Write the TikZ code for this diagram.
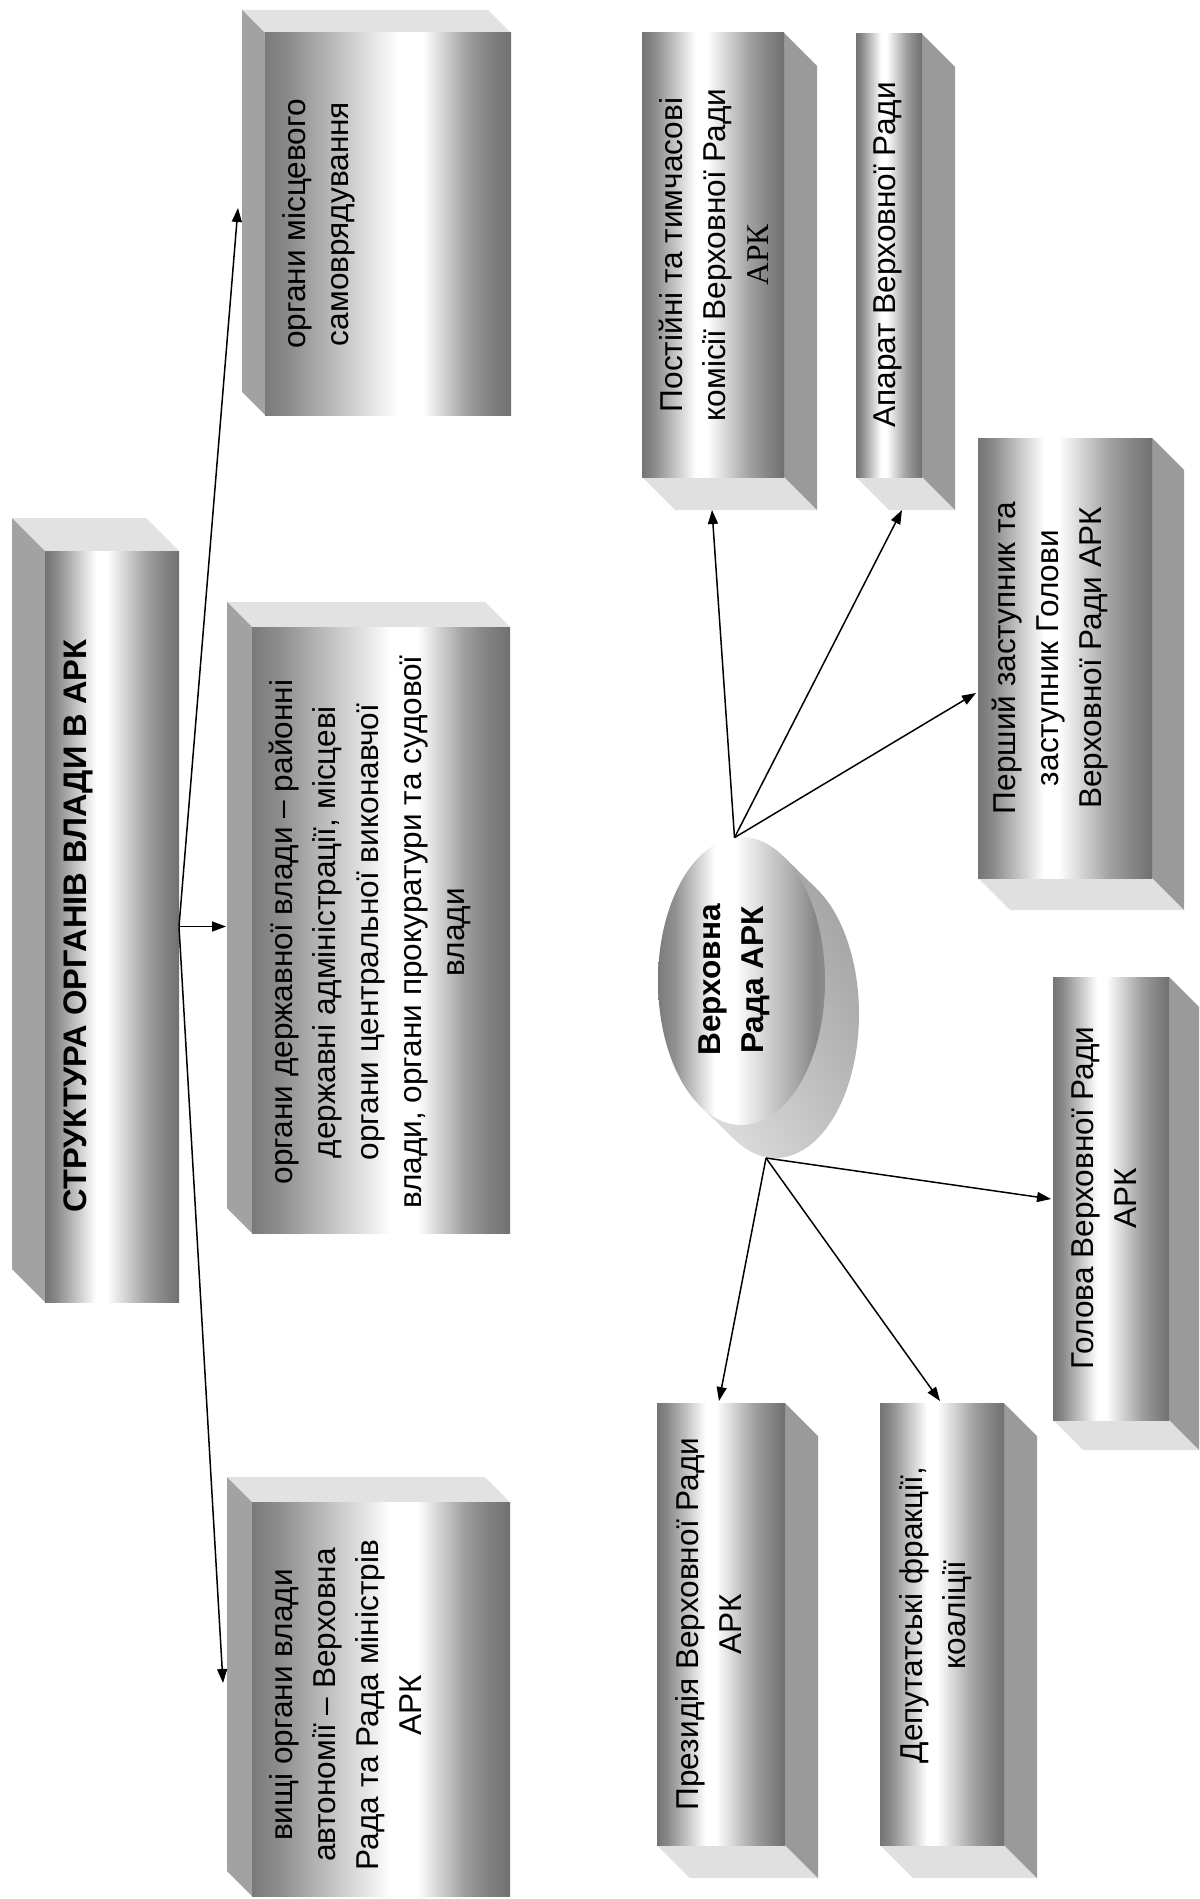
\documentclass[tikz,border=0pt]{standalone}
\usepackage{fontspec}
\setmainfont{Liberation Sans}
\newfontfamily\serifarial{Liberation Serif}
\usetikzlibrary{arrows.meta,shapes.geometric,calc,shadings}

\definecolor{topc}{HTML}{E2E2E2}
\definecolor{sidel}{HTML}{A2A2A2}
\definecolor{sider}{HTML}{9A9A9A}
\definecolor{botc}{HTML}{E0E0E0}
\definecolor{ga}{HTML}{747474}
\definecolor{gb}{HTML}{888888}
\definecolor{gc}{HTML}{A0A0A0}
\definecolor{gd}{HTML}{8A8A8A}
\definecolor{ge}{HTML}{707070}
\definecolor{ha}{HTML}{7A7A7A}
\definecolor{hb}{HTML}{8C8C8C}
\definecolor{hc}{HTML}{A0A0A0}
\definecolor{hd}{HTML}{858585}
\definecolor{he}{HTML}{707070}
\definecolor{ea}{HTML}{7A7A7A}
\definecolor{eb}{HTML}{909090}
\definecolor{ec}{HTML}{A8A8A8}
\definecolor{ed}{HTML}{868686}
\definecolor{ee}{HTML}{8C8C8C}
\definecolor{xa}{HTML}{B8B8B8}
\definecolor{xb}{HTML}{999999}
\definecolor{xc}{HTML}{E8E8E8}
\definecolor{xd}{HTML}{BDBDBD}

\pgfdeclarehorizontalshading{frontA}{100bp}{color(0bp)=(ga); color(25bp)=(ga); color(29bp)=(gb); color(44bp)=(white); color(48bp)=(white); color(63bp)=(gc); color(68bp)=(gd); color(75bp)=(ge); color(100bp)=(ge)}
\pgfdeclarehorizontalshading{frontB}{100bp}{color(0bp)=(ha); color(25bp)=(ha); color(30bp)=(hb); color(52bp)=(white); color(57bp)=(white); color(66bp)=(hc); color(70bp)=(hd); color(75bp)=(he); color(100bp)=(he)}
\pgfdeclarehorizontalshading{ellshade}{100bp}{color(0bp)=(ea); color(25bp)=(ea); color(30bp)=(eb); color(42bp)=(white); color(48bp)=(white); color(66bp)=(ec); color(72bp)=(ed); color(75bp)=(ee); color(100bp)=(ee)}

% left-extruded box: name, x1, y1, x2, y2, depth, shading
\newcommand\cubeL[7]{%
  \fill[topc] (#2,#3) -- (#2-#6,#3-#6) -- (#4-#6,#3-#6) -- (#4,#3) -- cycle;
  \fill[sidel] (#2,#3) -- (#2-#6,#3-#6) -- (#2-#6,#5-#6) -- (#2,#5) -- cycle;
  \node[face, shading=#7, minimum width={(#4-#2)*0.5pt}, minimum height={(#5-#3)*0.5pt}] (#1) at ({(#2+#4)/2},{(#3+#5)/2}) {};
}
% right-extruded box
\newcommand\cubeR[7]{%
  \fill[botc] (#2,#5) -- (#2+#6,#5+#6) -- (#4+#6,#5+#6) -- (#4,#5) -- cycle;
  \fill[sider] (#4,#3) -- (#4+#6,#3+#6) -- (#4+#6,#5+#6) -- (#4,#5) -- cycle;
  \node[face, shading=#7, minimum width={(#4-#2)*0.5pt}, minimum height={(#5-#3)*0.5pt}] (#1) at ({(#2+#4)/2},{(#3+#5)/2}) {};
}

\tikzset{
  face/.style={shade, draw=none, inner sep=0, outer sep=0, rectangle},
  txt/.style={rotate=90, anchor=base, align=center, inner sep=0,
    font=\fontsize{15.8}{21.5}\selectfont},
  txtb/.style={txt, font=\fontsize{15.8}{21.5}\selectfont\bfseries},
  arr/.style={-{Triangle[length=7pt,width=5pt]}, line width=0.75pt, black}
}

\begin{document}
\begin{tikzpicture}[x=0.5pt,y=-0.5pt]
\useasboundingbox (0,0) rectangle (1199,1899);

% ---- left group ----
\cubeL{b1}{45}{551}{179}{1302}{33}{frontA}
\cubeL{b2}{265}{33}{511}{415}{23}{frontB}
\cubeL{b3}{252}{627}{510}{1233}{25}{frontB}
\cubeL{b4}{252}{1502}{510}{1896}{25}{frontB}

\node[txtb, font=\fontsize{16.3}{21.5}\selectfont\bfseries] (b1t) at (86,926) {СТРУКТУРА ОРГАНІВ ВЛАДИ В АРК};
\node[txt] (b2t) at (348,224) {органи місцевого\\самоврядування};
\node[txt] (b3t) at (464,932) {органи державної влади – районні\\державні адміністрації, місцеві\\органи центральної виконавчої\\влади, органи прокуратури та судової\\влади};
\node[txt] (b4t) at (421,1705) {вищі органи влади\\автономії – Верховна\\Рада та Рада міністрів\\АРК};

\coordinate (t2) at (238,208);
\coordinate (t3) at ($(b1.east)+(47,0)$);
\coordinate (t4) at (223,1683);
\draw[arr] (b1.east) -- (t2);
\draw[arr] (b1.east) -- (t3);
\draw[arr] (b1.east) -- (t4);

% ---- right group ----
\cubeR{b5}{642}{33}{784}{477}{33}{frontA}
\cubeR{b6}{856}{34}{922}{477}{33}{frontA}
\cubeR{b7}{978}{438}{1152}{878}{32}{frontA}
\cubeR{b8}{1053}{977}{1169}{1420}{30}{frontA}
\cubeR{b9}{657}{1403}{785}{1845}{33}{frontA}
\cubeR{b10}{880}{1403}{1004}{1845}{33}{frontA}

\node[txt] (b5t) at (768,255) {Постійні та тимчасові\\комісії Верховної Ради\\{\serifarial АРК}};
\node[txt] (b6t) at (895,255) {Апарат Верховної Ради};
\node[txt] (b7t) at (1101,658) {Перший заступник та\\заступник Голови\\Верховної Ради АРК};
\node[txt] (b8t) at (1136,1198) {Голова Верховної Ради\\АРК};
\node[txt] (b9t) at (741,1624) {Президія Верховної Ради\\АРК};
\node[txt] (b10t) at (965,1615) {Депутатські фракції,\\коаліції};

% ellipse with extrusion
\coordinate (ec) at (741.5,981);
\shade[upper left=xa, upper right=xb, lower left=xc, lower right=xd]
  ($(ec)+(-60.63:83.5 and 144)$) -- ++(34,33)
  arc[start angle=-60.63, end angle=119.37, x radius=83.5, y radius=144]
  -- ($(ec)+(119.37:83.5 and 144)$) -- cycle;
\node[ellipse, shade, shading=ellshade, draw=none, inner sep=0,
  minimum width=83.5pt, minimum height=144pt] (vr) at (ec) {};
\node[txtb] (vrt) at (763,980) {Верховна\\Рада АРК};

\coordinate (vtop) at ($(vr.north)+(-7,1)$);
\coordinate (vbot) at (766,1158);
\coordinate (t5) at (712,510);
\coordinate (t6) at (902,510);
\coordinate (t7) at (976,693);
\coordinate (t8) at (1051,1199);
\coordinate (t9) at (719,1401);
\coordinate (t10) at (940,1401);
\draw[arr] (vtop) -- (t5);
\draw[arr] (vtop) -- (t6);
\draw[arr] (vtop) -- (t7);
\draw[arr] (vbot) -- (t8);
\draw[arr] (vbot) -- (t9);
\draw[arr] (vbot) -- (t10);
\end{tikzpicture}
\end{document}
